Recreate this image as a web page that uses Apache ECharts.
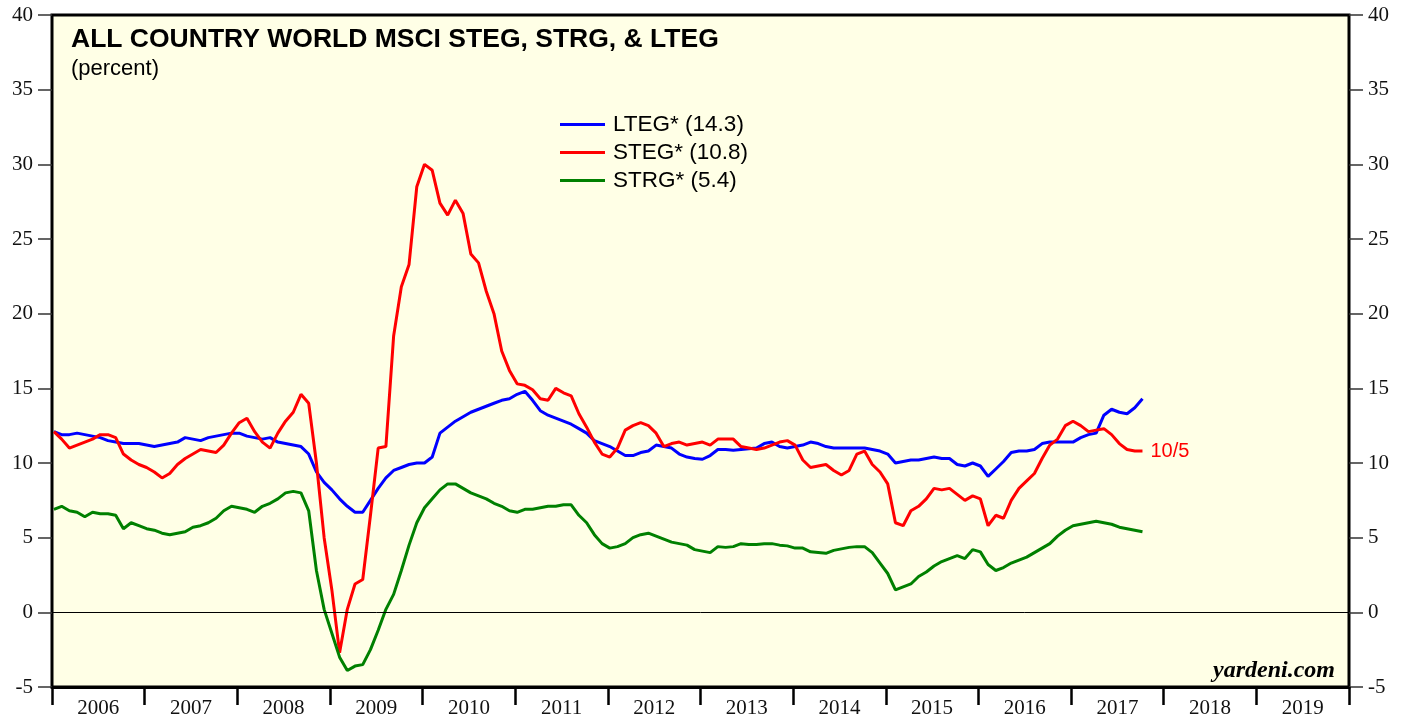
<!DOCTYPE html>
<html>
<head>
<meta charset="utf-8">
<title>ACWI STEG STRG LTEG</title>
<script src="https://cdn.jsdelivr.net/npm/echarts@6/dist/echarts.min.js"></script>
<style>
	html, body {
		margin: 0;
		padding: 0;
		background: #fff;
	}
	#myChart {
		width: 1407px;
		height: 719px;
	}
</style>
</head>
<body>
<div id="myChart"></div>
<script>
	// year bands on the bottom axis
	var years = ['2006', '2007', '2008', '2009', '2010', '2011', '2012', '2013', '2014', '2015', '2016', '2017', '2018', '2019'];

	// monthly readings, Jan 2006 .. Oct 2017
	var lteg = [
		12.1, 11.9, 11.9, 12.0, 11.9, 11.8, 11.7, 11.5, 11.4, 11.3, 11.3, 11.3,
		11.2, 11.1, 11.2, 11.3, 11.4, 11.7, 11.6, 11.5, 11.7, 11.8, 11.9, 12.0,
		12.0, 11.8, 11.7, 11.6, 11.7, 11.4, 11.3, 11.2, 11.1, 10.6, 9.4, 8.7,
		8.2, 7.6, 7.1, 6.7, 6.7, 7.5, 8.3, 9.0, 9.5, 9.7, 9.9, 10.0,
		10.0, 10.4, 12.0, 12.4, 12.8, 13.1, 13.4, 13.6, 13.8, 14.0, 14.2, 14.3,
		14.6, 14.8, 14.2, 13.5, 13.2, 13.0, 12.8, 12.6, 12.3, 12.0, 11.5, 11.3,
		11.1, 10.8, 10.5, 10.5, 10.7, 10.8, 11.2, 11.1, 11.0, 10.6, 10.4, 10.3,
		10.25, 10.5, 10.9, 10.9, 10.85, 10.9, 10.95, 11.0, 11.3, 11.4, 11.1, 11.0,
		11.1, 11.2, 11.4, 11.3, 11.1, 11.0, 11.0, 11.0, 11.0, 11.0, 10.9, 10.8,
		10.6, 10.0, 10.1, 10.2, 10.2, 10.3, 10.4, 10.3, 10.3, 9.9, 9.8, 10.0,
		9.8, 9.1, 9.6, 10.1, 10.7, 10.8, 10.8, 10.9, 11.3, 11.4, 11.4, 11.4,
		11.4, 11.7, 11.9, 12.0, 13.2, 13.6, 13.4, 13.3, 13.7, 14.3
	];
	var steg = [
		12.1, 11.6, 11.0, 11.2, 11.4, 11.6, 11.9, 11.9, 11.7, 10.6, 10.2, 9.9,
		9.7, 9.4, 9.0, 9.3, 9.9, 10.3, 10.6, 10.9, 10.8, 10.7, 11.2, 12.0,
		12.7, 13.0, 12.1, 11.4, 11.0, 12.0, 12.8, 13.4, 14.6, 14.0, 10.0, 5.0,
		1.5, -2.7, 0.2, 1.9, 2.2, 6.5, 11.0, 11.1, 18.5, 21.8, 23.3, 28.5,
		30.0, 29.6, 27.4, 26.6, 27.6, 26.7, 24.0, 23.4, 21.5, 20.0, 17.5, 16.2,
		15.3, 15.2, 14.9, 14.3, 14.2, 15.0, 14.7, 14.5, 13.3, 12.4, 11.4, 10.6,
		10.4, 11.0, 12.2, 12.5, 12.7, 12.5, 12.0, 11.1, 11.3, 11.4, 11.2, 11.3,
		11.4, 11.2, 11.6, 11.6, 11.6, 11.1, 11.0, 10.9, 11.0, 11.2, 11.4, 11.5,
		11.2, 10.2, 9.7, 9.8, 9.9, 9.5, 9.2, 9.5, 10.6, 10.8, 9.9, 9.4,
		8.6, 6.0, 5.8, 6.8, 7.1, 7.6, 8.3, 8.2, 8.3, 7.9, 7.5, 7.8,
		7.6, 5.8, 6.5, 6.3, 7.5, 8.3, 8.8, 9.3, 10.3, 11.2, 11.6, 12.5,
		12.8, 12.5, 12.1, 12.2, 12.3, 11.9, 11.3, 10.9, 10.8, 10.8
	];
	var strg = [
		6.9, 7.1, 6.8, 6.7, 6.4, 6.7, 6.6, 6.6, 6.5, 5.6, 6.0, 5.8,
		5.6, 5.5, 5.3, 5.2, 5.3, 5.4, 5.7, 5.8, 6.0, 6.3, 6.8, 7.1,
		7.0, 6.9, 6.7, 7.1, 7.3, 7.6, 8.0, 8.1, 8.0, 6.8, 2.8, 0.2,
		-1.4, -3.0, -3.9, -3.6, -3.5, -2.5, -1.2, 0.2, 1.2, 2.8, 4.5, 6.0,
		7.0, 7.6, 8.2, 8.6, 8.6, 8.3, 8.0, 7.8, 7.6, 7.3, 7.1, 6.8,
		6.7, 6.9, 6.9, 7.0, 7.1, 7.1, 7.2, 7.2, 6.5, 6.0, 5.2, 4.6,
		4.3, 4.4, 4.6, 5.0, 5.2, 5.3, 5.1, 4.9, 4.7, 4.6, 4.5, 4.2,
		4.1, 4.0, 4.4, 4.35, 4.4, 4.6, 4.55, 4.55, 4.6, 4.6, 4.5, 4.45,
		4.3, 4.3, 4.05, 4.0, 3.95, 4.15, 4.25, 4.35, 4.4, 4.4, 4.0, 3.3,
		2.6, 1.5, 1.7, 1.9, 2.4, 2.7, 3.1, 3.4, 3.6, 3.8, 3.6, 4.2,
		4.05, 3.2, 2.8, 3.0, 3.3, 3.5, 3.7, 4.0, 4.3, 4.6, 5.1, 5.5,
		5.8, 5.9, 6.0, 6.1, 6.0, 5.9, 5.7, 5.6, 5.5, 5.4
	];
	var lastDateLabel = '10/5';

	// month positions as decimal years
	var months = [];
	for (var i = 0; i < lteg.length; i++) {
		months.push(2006 + (i + 0.25) / 12);
	}

	function pairs(vals) {
		var out = [];
		for (var i = 0; i < vals.length; i++) {
			out.push([months[i], vals[i]]);
		}
		return out;
	}

	var lastVal = {
		'LTEG*': lteg[lteg.length - 1],
		'STEG*': steg[steg.length - 1],
		'STRG*': strg[strg.length - 1]
	};

	var serif = '"Liberation Serif", "DejaVu Serif", serif';
	var sans = '"Liberation Sans", Arial, sans-serif';

	var yAxisBase = {
		type: 'value',
		min: -5,
		max: 40,
		interval: 5,
		splitLine: { show: false },
		axisLine: { show: false },
		axisTick: {
			show: true,
			length: 14,
			lineStyle: { color: '#333', width: 1.5 }
		},
		axisLabel: {
			color: '#111',
			fontFamily: serif,
			fontSize: 21,
			margin: 19
		}
	};

	var myChart = echarts.init(document.getElementById('myChart'));
	myChart.setOption({
		animation: false,
		backgroundColor: '#fff',
		grid: {
			left: 52,
			right: 58,
			top: 15,
			bottom: 32,
			show: true,
			backgroundColor: '#ffffe6',
			borderColor: '#000',
			borderWidth: 3
		},
		title: [{
			text: 'ALL COUNTRY WORLD MSCI STEG, STRG, & LTEG',
			left: 66,
			top: 21,
			textStyle: { fontFamily: sans, fontSize: 26.5, fontWeight: 'bold', color: '#000' }
		}, {
			text: '(percent)',
			left: 66,
			top: 53,
			textStyle: { fontFamily: sans, fontSize: 22, fontWeight: 'normal', color: '#000' }
		}],
		legend: {
			orient: 'vertical',
			left: 555,
			top: 108,
			itemWidth: 45,
			itemHeight: 3,
			itemGap: 5,
			icon: 'rect',
			data: ['LTEG*', 'STEG*', 'STRG*'],
			formatter: function(name) {
				return name + ' (' + lastVal[name].toFixed(1) + ')';
			},
			textStyle: {
				fontFamily: sans,
				fontSize: 22.5,
				lineHeight: 22,
				color: '#000',
				padding: [0, 0, 0, 3]
			}
		},
		graphic: [{
			type: 'text',
			right: 72,
			top: 659,
			style: {
				text: 'yardeni.com',
				font: 'italic bold 24px "Liberation Serif", serif',
				fill: '#000'
			}
		}],
		xAxis: [{
			type: 'category',
			data: years,
			boundaryGap: true,
			axisLine: { show: true, onZero: false, lineStyle: { color: '#000', width: 3 } },
			axisTick: {
				show: true,
				interval: 0,
				length: 18,
				lineStyle: { color: '#000', width: 2.5 }
			},
			axisLabel: {
				interval: 0,
				color: '#111',
				fontFamily: serif,
				fontSize: 21,
				margin: 11
			},
			splitLine: { show: false }
		}, {
			type: 'value',
			min: 2006,
			max: 2020,
			show: false
		}],
		yAxis: [
			Object.assign({}, yAxisBase, { position: 'left' }),
			Object.assign({}, yAxisBase, { position: 'right' })
		],
		series: [{
			name: 'LTEG*',
			type: 'line',
			xAxisIndex: 1,
			yAxisIndex: 0,
			data: pairs(lteg),
			showSymbol: false,
			color: '#0000ff',
			lineStyle: { width: 3 },
			markLine: {
				silent: true,
				symbol: 'none',
				label: { show: false },
				lineStyle: { color: '#000', width: 1, type: 'solid' },
				data: [{ yAxis: 0 }]
			}
		}, {
			name: 'STEG*',
			type: 'line',
			xAxisIndex: 1,
			yAxisIndex: 0,
			data: pairs(steg),
			showSymbol: false,
			color: '#ff0000',
			lineStyle: { width: 3 },
			endLabel: {
				show: true,
				formatter: lastDateLabel,
				color: '#ff0000',
				fontFamily: sans,
				fontSize: 20,
				distance: 8
			}
		}, {
			name: 'STRG*',
			type: 'line',
			xAxisIndex: 1,
			yAxisIndex: 0,
			data: pairs(strg),
			showSymbol: false,
			color: '#008000',
			lineStyle: { width: 3 }
		}]
	});
</script>
</body>
</html>
